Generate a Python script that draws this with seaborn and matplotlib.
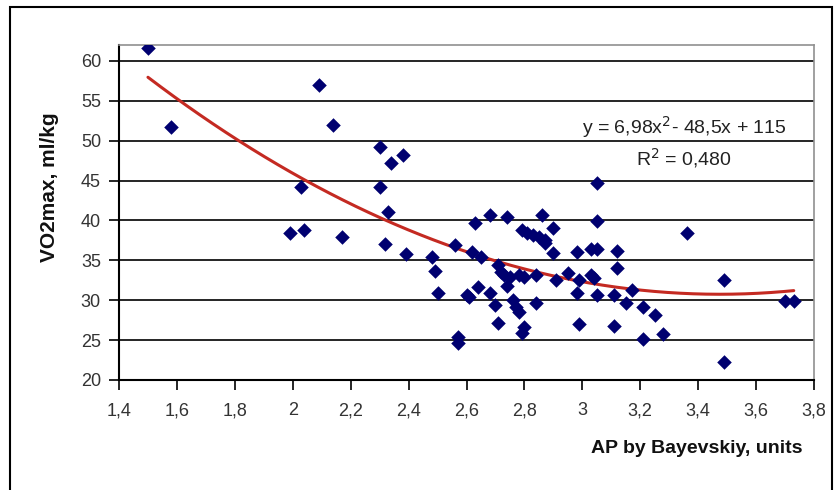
import matplotlib
matplotlib.use("Agg")
import matplotlib.pyplot as plt
import seaborn as sns
import numpy as np
import pandas as pd
from matplotlib.patches import Rectangle

x_vals = [1.50, 1.58, 2.09, 2.14, 2.30, 2.34, 2.38, 2.30, 2.03, 2.33,
          1.99, 2.04, 2.17, 2.32, 2.39, 2.48, 2.49, 2.50, 2.56, 2.57,
          2.57, 2.63, 2.68, 2.74, 2.86, 3.05, 3.05, 2.79, 2.81, 2.83,
          2.85, 2.87, 2.90, 2.87, 2.90, 2.98, 3.03, 3.05, 3.12, 3.12,
          2.62, 2.65, 2.71, 2.72, 2.73, 2.75, 2.78, 2.80, 2.84, 2.91,
          2.95, 2.99, 3.03, 3.04, 2.74, 2.64, 2.60, 2.61, 2.68, 2.70,
          2.76, 2.77, 2.78, 2.84, 2.98, 3.05, 3.11, 3.15, 2.71, 2.80,
          2.79, 2.99, 3.11, 3.17, 3.21, 3.25, 3.21, 3.28, 3.36, 3.49,
          3.49, 3.70, 3.73]
y_vals = [61.6, 51.7, 57.0, 52.0, 49.2, 47.2, 48.2, 44.2, 44.2, 41.1,
          38.4, 38.8, 37.9, 37.1, 35.8, 35.4, 33.7, 30.9, 36.9, 25.4,
          24.6, 39.7, 40.7, 40.4, 40.7, 39.9, 44.7, 38.8, 38.4, 38.2,
          37.9, 37.6, 39.0, 37.2, 35.9, 36.1, 36.4, 36.4, 36.2, 34.0,
          36.0, 35.4, 34.4, 33.5, 33.2, 32.9, 33.2, 32.9, 33.2, 32.5,
          33.4, 32.5, 33.2, 32.8, 31.8, 31.7, 30.7, 30.4, 30.9, 29.4,
          30.0, 29.2, 28.5, 29.6, 30.9, 30.7, 30.7, 29.6, 27.1, 26.6,
          25.9, 27.0, 26.8, 31.3, 29.2, 28.2, 25.1, 25.8, 38.4, 32.5,
          22.3, 29.9, 29.9]

# trendline coefficients as printed on the chart
trend_coef = [6.98, -48.5, 115.0]
x_ticks = [1.4, 1.6, 1.8, 2.0, 2.2, 2.4, 2.6, 2.8, 3.0, 3.2, 3.4, 3.6, 3.8]
x_tick_labels = ["1,4", "1,6", "1,8", "2", "2,2", "2,4", "2,6", "2,8", "3", "3,2", "3,4", "3,6", "3,8"]
y_ticks = [20, 25, 30, 35, 40, 45, 50, 55, 60]

df = pd.DataFrame({"x": x_vals, "y": y_vals})
xs = np.linspace(min(x_vals), max(x_vals), 200)
trend = pd.DataFrame({"x": xs, "y": np.polyval(trend_coef, xs)})

sns.set_theme(style="white")
plt.rcParams["font.family"] = ["Liberation Sans", "DejaVu Sans"]

W, H = 837, 490
fig = plt.figure(figsize=(W / 100, H / 100), dpi=100)
fig.patch.set_facecolor("white")
fig.patches.append(Rectangle((10 / W, -0.02), 822 / W, (490 - 7) / H + 0.02,
                             transform=fig.transFigure, fill=False,
                             edgecolor="black", lw=1.5, zorder=0))

ax = fig.add_axes([119 / W, 1 - 380 / H, (814 - 119) / W, (380 - 45) / H])
ax.set_facecolor("white")
for yv in y_ticks:
    ax.axhline(yv, color="black", lw=1.2, zorder=1)

sns.lineplot(data=trend, x="x", y="y", ax=ax, color="#c42a22", lw=2.2, zorder=2)
sns.scatterplot(data=df, x="x", y="y", ax=ax, marker="D", s=55,
                color="#000070", edgecolor="#000070", linewidth=0, zorder=3)

ax.set_xlim(1.4, 3.8)
ax.set_ylim(20, 62)
ax.set_xticks(x_ticks)
ax.set_xticklabels(x_tick_labels)
ax.set_yticks(y_ticks)
ax.set_yticklabels([str(v) for v in y_ticks])
ax.tick_params(axis="both", direction="out", length=7, width=1.2,
               color="black", labelsize=13, labelcolor="#333333", pad=6,
               bottom=True, left=True)
ax.tick_params(axis="x", pad=9)
ax.set_xlabel("")
ax.set_ylabel("")
for s in ["left", "bottom"]:
    ax.spines[s].set_color("black")
    ax.spines[s].set_linewidth(1.5)
for s in ["top", "right"]:
    ax.spines[s].set_color("#909090")
    ax.spines[s].set_linewidth(1.2)

fig.text(803 / W, 1 - 448 / H, "AP by Bayevskiy, units", ha="right", va="center",
         fontsize=14, fontweight="bold", color="#111111")
fig.text(50 / W, 1 - 187 / H, "VO2max, ml/kg", ha="center", va="center",
         rotation=90, fontsize=15, fontweight="bold", color="#111111")
fig.text(684 / W, 1 - 127 / H, "y = 6,98x$^2$- 48,5x + 115", ha="center", va="center",
         fontsize=14, color="#222222")
fig.text(684 / W, 1 - 158 / H, "R$^2$ = 0,480", ha="center", va="center",
         fontsize=14, color="#222222")

fig.savefig("out.png", dpi=100)
